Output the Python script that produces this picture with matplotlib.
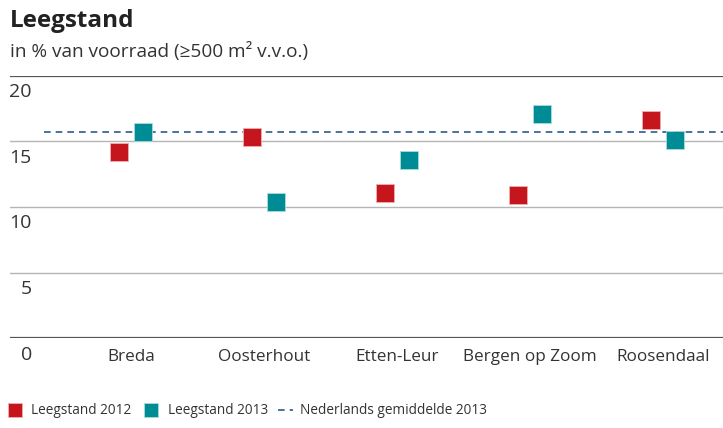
import numpy as np
import matplotlib.pyplot as plt
from matplotlib.lines import Line2D

plt.rcParams['font.family'] = ['Open Sans', 'DejaVu Sans']

cities = ['Breda', 'Oosterhout', 'Etten-Leur', 'Bergen op Zoom', 'Roosendaal']
leeg_2012 = [14.2, 15.3, 11.1, 10.9, 16.6]
leeg_2013 = [15.7, 10.4, 13.6, 17.1, 15.1]
nl_gem_2013 = 15.75
yticks = [0, 5, 10, 15, 20]

RED = '#c4161c'
TEAL = '#008c95'
DASH = '#2e5a8c'
TXT = '#333333'

W, H = 723, 428
fig = plt.figure(figsize=(W / 100, H / 100), dpi=100)
ax = fig.add_axes([0.0138, 0.2096, 0.9862, 0.6135])

x = np.arange(len(cities))
ax.set_xlim(-0.91, 4.45)
ax.set_ylim(0, 20)

# gridlines + labels under them
for t in yticks:
    if t in (0, 20):
        ax.axhline(t, color='#555555', lw=1.6, zorder=1)
    else:
        ax.axhline(t, color='#b5b5b5', lw=1.0, zorder=1)
    ax.text(-0.745, t - 1.25, str(t), ha='right', va='center', fontsize=14, color=TXT)

ax.plot([-0.654, 4.45], [nl_gem_2013, nl_gem_2013], ls=(0, (4, 3)), color=DASH, lw=1.2, zorder=2)

ax.scatter(x - 0.09, leeg_2012, marker='s', s=175, color=RED, edgecolors='#f0b0b0', linewidths=0.6, zorder=3)
ax.scatter(x + 0.09, leeg_2013, marker='s', s=175, color=TEAL, edgecolors='#a8dcdc', linewidths=0.6, zorder=3)

for i, c in enumerate(cities):
    ax.text(i, -1.45, c, ha='center', va='center', fontsize=12.3, color=TXT)

for s in ax.spines.values():
    s.set_visible(False)
ax.set_xticks([])
ax.set_yticks([])

fig.text(10 / W, 1 - 21 / H, 'Leegstand', fontsize=17.5, fontweight='bold', color='#222222', va='center')
fig.text(10 / W, 1 - 52 / H, 'in % van voorraad (\u2265500 m\u00b2 v.v.o.)', fontsize=13.7, color=TXT, va='center')

# legend, placed by hand
ly = 1 - 410 / H
fig.add_artist(Line2D([15 / W], [ly], marker='s', markersize=10.5, color=RED,
                      markeredgecolor='#f0b0b0', markeredgewidth=0.6, transform=fig.transFigure))
fig.text(31 / W, ly, 'Leegstand 2012', fontsize=9.8, color=TXT, va='center')
fig.add_artist(Line2D([151 / W], [ly], marker='s', markersize=10.5, color=TEAL,
                      markeredgecolor='#a8dcdc', markeredgewidth=0.6, transform=fig.transFigure))
fig.text(168 / W, ly, 'Leegstand 2013', fontsize=9.8, color=TXT, va='center')
fig.add_artist(Line2D([278 / W, 293 / W], [ly, ly], ls=(0, (4, 3)), color=DASH, lw=1.2,
                      transform=fig.transFigure))
fig.text(300 / W, ly, 'Nederlands gemiddelde 2013', fontsize=9.8, color=TXT, va='center')

fig.savefig('out.png', dpi=100)
